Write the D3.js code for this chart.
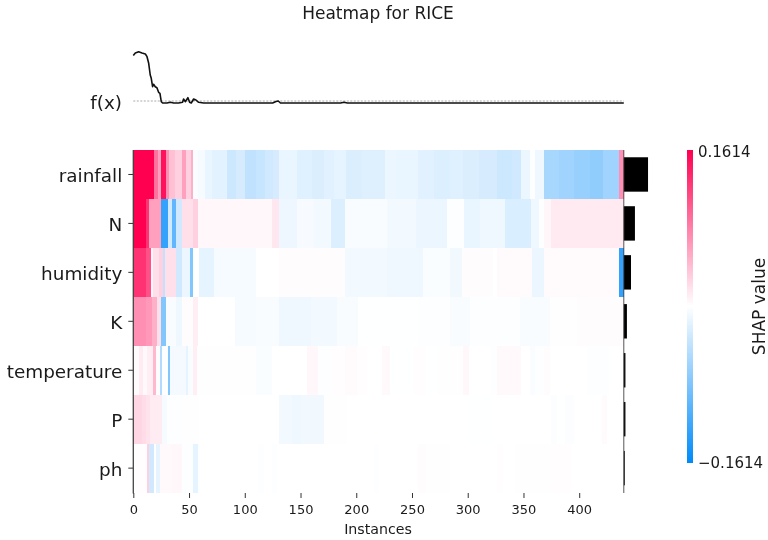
<!DOCTYPE html>
<html><head><meta charset="utf-8">
<script src="https://cdn.jsdelivr.net/npm/d3@7/dist/d3.min.js"></script>
<style>html,body{margin:0;padding:0;background:#fff}svg{display:block;filter:blur(0.35px)}text{font-family:"DejaVu Sans",sans-serif;fill:#1a1a1a}</style>
</head><body><svg id="c" width="768" height="540"></svg>
<script>
const features = ["rainfall","N","humidity","K","temperature","P","ph"];
const xTicks = [0,50,100,150,200,250,300,350,400];
const meanAbs = [0.074,0.034,0.022,0.0095,0.005,0.005,0.003];
const cMax = 0.1614;
const fxInstances = [0,1.8,4.8,7.8,10.8,12.3,13.8,15.2,16.1,17.3,18.2,19.7,21.2,22.7,23.9,25.1,26.3,30.2,33.2,36.2,40.6,44.2,45.1,46.6,49,50.5,52,54.1,56.2,58.6,63.1,125,128,130,132,186,189,192,440];
const fxValues = [0.91,0.96,0.986,0.96,0.94,0.886,0.754,0.52,0.454,0.286,0.334,0.286,0.266,0.174,0.154,-0.014,-0.04,-0.04,-0.026,-0.04,-0.04,-0.026,0.04,-0.014,0.066,-0.026,-0.04,0.04,0.02,-0.026,-0.04,-0.04,-0.01,0.0,-0.04,-0.04,-0.025,-0.04,-0.04];
// [end instance, SHAP value]
const rainfall = [[19,.1614],[22,.09],[25,.06],[29,.15],[32,.07],[37,.04],[44,.03],[47,.06],[52,.03],[54,.05],[58,-.003],[64,-.006],[71,-.013],[84,-.018],[92,-.032],[100,-.026],[110,-.04],[118,-.036],[125,-.03],[131,-.026],[147,-.013],[160,-.02],[171,-.023],[180,-.019],[191,-.016],[205,-.023],[226,-.021],[236,-.012],[255,-.014],[270,-.019],[284,-.022],[296,-.02],[310,-.023],[326,-.026],[340,-.032],[348,-.03],[356,-.012],[360,-.002],[368,-.01],[382,-.055],[395,-.06],[410,-.066],[421,-.07],[436,-.06],[440,.07]];
const nitrogen = [[11,.1614],[14,.13],[25,.06],[31,-.13],[35,-.03],[38,-.1],[44,-.03],[54,.02],[58,.03],[124,.005],[131,.015],[147,-.011],[162,-.005],[177,-.008],[190,-.022],[228,-.004],[254,-.008],[281,-.012],[297,-.001],[311,-.014],[333,-.01],[357,-.024],[364,-.01],[368,-.001],[375,.006],[440,.013]];
const humidity = [[11,.13],[16,.11],[18,.005],[23,.02],[27,.03],[28,-.04],[38,.02],[44,-.03],[51,-.012],[54,-.08],[59,0],[72,-.016],[110,-.006],[131,0],[190,.002],[228,-.008],[260,-.01],[284,-.003],[295,-.009],[323,.002],[326,0],[358,.003],[368,-.012],[436,.003],[440,-.13]];
const potassium = [[11,.07],[17,.065],[21,.05],[25,.02],[29,-.08],[38,-.004],[44,-.01],[54,.002],[58,.01],[91,0],[110,-.006],[131,-.004],[159,-.01],[183,-.008],[202,-.004],[255,-.0005],[284,-.002],[302,-.004],[347,-.001],[374,-.004],[398,.0005],[440,.002]];
const temperature = [[5,.003],[9,.012],[12,.004],[18,.01],[20,.045],[24,.002],[26,-.05],[31,-.002],[33,-.08],[47,-.007],[49,-.016],[54,-.003],[57,.01],[110,.0005],[124,-.003],[156,0],[166,.005],[177,-.001],[190,.001],[201,.003],[210,.001],[223,0],[230,.004],[251,-.0005],[263,.001],[272,-.0005],[296,.0005],[301,.005],[321,0],[326,-.002],[348,.004],[356,0],[360,-.003],[368,-.001],[374,.002],[395,-.0003],[407,0],[427,-.001],[440,0]];
const phosphorus = [[8,.026],[11,.022],[15,.018],[26,.012],[30,-.006],[44,-.0015],[59,-.0007],[131,0],[142,-.008],[150,-.01],[171,-.009],[192,-.0007],[299,0],[323,-.0006],[356,-.0003],[375,0],[380,-.0025],[387,-.0006],[395,-.0025],[420,0],[425,.003],[440,0]];
const ph = [[2,.0005],[12,.001],[14,.03],[19,-.03],[20,0],[24,-.016],[35,.004],[44,.005],[54,-.001],[58,-.016],[60,-.002],[112,0],[117,-.0015],[124,0],[129,-.001],[144,0],[195,-.0003],[216,0],[220,-.001],[255,0],[263,.002],[284,.0005],[326,0],[332,.001],[342,0],[375,.0005],[393,.0015],[440,0]];
const rows = [rainfall,nitrogen,humidity,potassium,temperature,phosphorus,ph];

const svg = d3.select("#c");
const x = d3.scaleLinear().domain([0,440]).range([133.3,623.8]);
const y = d3.scaleBand().domain(features).range([150,492.6]);
const color = d3.scaleLinear().domain([-cMax,0,cMax]).range(["#008bfb","#ffffff","#ff0051"]).clamp(true);

// heatmap
features.forEach((f,i)=>{
  svg.append("g").attr("shape-rendering","crispEdges").selectAll("rect").data(rows[i]).join("rect")
    .attr("x",(d,j)=>x(j?rows[i][j-1][0]:0))
    .attr("width",(d,j)=>x(d[0])-x(j?rows[i][j-1][0]:0))
    .attr("y",y(f)).attr("height",y.bandwidth())
    .attr("fill",d=>color(d[1]));
});

// f(x) panel
const fy = d3.scaleLinear().domain([0,1]).range([101,51]);
svg.append("line").attr("x1",x(0)).attr("x2",x(440)).attr("y1",fy(0)).attr("y2",fy(0))
  .attr("stroke","#888").attr("stroke-width",0.7).attr("stroke-dasharray","2,1.5");
const line = d3.line().x((d,i)=>x(fxInstances[i])).y(d=>fy(d));
svg.append("path").attr("d",line(fxValues)).attr("fill","none").attr("stroke","#111").attr("stroke-width",1.6).attr("stroke-linejoin","round");
svg.append("text").attr("x",122).attr("y",fy(0)+8).attr("text-anchor","end").attr("font-size",18.4).text("f(x)");

// axes
const ay = svg.append("g").attr("transform",`translate(${x(0)},0)`).call(d3.axisLeft(y).tickSize(5).tickPadding(6));
ay.select(".domain").remove();
ay.selectAll("line").attr("stroke","#333").attr("stroke-width",1);
ay.selectAll("text").style("font-family",'"DejaVu Sans"').attr("font-size",18.4).attr("dy","0.42em").style("fill","#1a1a1a");
svg.append("line").attr("x1",x(0)).attr("x2",x(0)).attr("y1",150).attr("y2",493.5).attr("stroke","#444").attr("stroke-width",1.3);

const ax = svg.append("g").attr("transform","translate(0,493)").call(d3.axisBottom(x).tickValues(xTicks).tickSize(5).tickPadding(7));
ax.select(".domain").remove();
ax.selectAll("line").attr("stroke","#333").attr("stroke-width",1);
ax.selectAll("text").style("font-family",'"DejaVu Sans"').attr("font-size",13).style("fill","#1a1a1a");
svg.append("text").attr("x",378).attr("y",534).attr("text-anchor","middle").attr("font-size",14.2).text("Instances");
svg.append("text").attr("x",378).attr("y",19).attr("text-anchor","middle").attr("font-size",17).text("Heatmap for RICE");

// mean |SHAP| bars
const bar = d3.scaleLinear().domain([0,0.08]).range([x(440),650]);
svg.append("g").selectAll("rect").data(meanAbs).join("rect")
  .attr("x",bar(0)).attr("width",d=>bar(d)-bar(0))
  .attr("y",(d,i)=>y(features[i])+y.bandwidth()/2-17.2).attr("height",34.4).attr("fill","#000");
svg.append("line").attr("x1",bar(0)).attr("x2",bar(0)).attr("y1",150).attr("y2",493).attr("stroke","#444").attr("stroke-width",0.9);

// colour bar
const cb = d3.scaleLinear().domain([cMax,-cMax]).range([150,462]);
const cbSteps = d3.range(-cMax,cMax,2*cMax/156);
svg.append("g").attr("shape-rendering","crispEdges").selectAll("rect").data(cbSteps).join("rect")
  .attr("x",687).attr("width",6).attr("y",d=>cb(d)-2).attr("height",2.6).attr("fill",d=>color(d));
svg.append("text").attr("x",698).attr("y",cb(cMax)+7).attr("font-size",15).text("0.1614");
svg.append("text").attr("x",698).attr("y",cb(-cMax)+6).attr("font-size",15).text("\u22120.1614");
svg.append("text").attr("transform","translate(765,306.5) rotate(-90)").attr("text-anchor","middle").attr("font-size",17).text("SHAP value");
</script></body></html>
